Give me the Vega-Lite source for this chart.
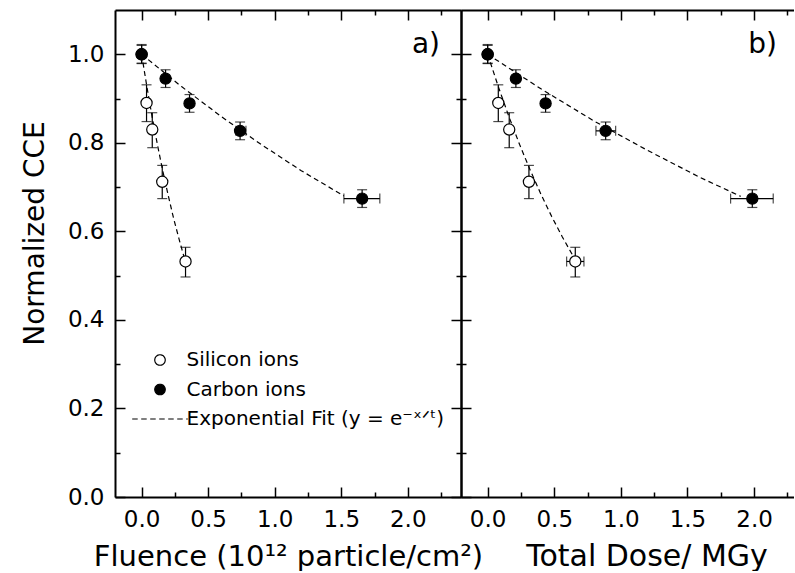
{
  "$schema": "https://vega.github.io/schema/vega-lite/v6.json",
  "usermeta": {"embedOptions": {"actions": false}},
  "background": "white",
  "padding": {"left": 21, "top": 9, "right": 0, "bottom": 0},
  "config": {
    "font": "DejaVu Sans",
    "view": {"stroke": null},
    "axis": {"domainColor": "black", "domainWidth": 2, "tickColor": "black", "tickWidth": 1.5, "labelColor": "black", "titleColor": "black", "labelFontSize": 23, "titleFontSize": 29, "titleFontWeight": "normal", "grid": false, "labelFlush": false, "labelOverlap": false},
    "title": {"font": "DejaVu Sans", "fontWeight": "normal", "color": "black"},
    "legend": {"padding": 0}
  },
  "datasets": {
    "flu": [
      {"ion": "Silicon ions", "x": 0, "y": 1.0, "ylo": 0.98, "yhi": 1.02},
      {"ion": "Silicon ions", "x": 0.037, "y": 0.89, "ylo": 0.848, "yhi": 0.931},
      {"ion": "Silicon ions", "x": 0.08, "y": 0.83, "ylo": 0.789, "yhi": 0.868},
      {"ion": "Silicon ions", "x": 0.155, "y": 0.712, "ylo": 0.674, "yhi": 0.749},
      {"ion": "Silicon ions", "x": 0.33, "y": 0.532, "ylo": 0.497, "yhi": 0.564},
      {"ion": "Carbon ions", "x": 0, "y": 1.0, "ylo": 0.979, "yhi": 1.022},
      {"ion": "Carbon ions", "x": 0.18, "y": 0.945, "ylo": 0.925, "yhi": 0.965},
      {"ion": "Carbon ions", "x": 0.36, "y": 0.889, "ylo": 0.869, "yhi": 0.909},
      {"ion": "Carbon ions", "x": 0.74, "y": 0.827, "ylo": 0.807, "yhi": 0.847, "xlo": 0.709, "xhi": 0.784},
      {"ion": "Carbon ions", "x": 1.657, "y": 0.674, "ylo": 0.654, "yhi": 0.694, "xlo": 1.52, "xhi": 1.79}
    ],
    "dose": [
      {"ion": "Silicon ions", "x": 0, "y": 1.0, "ylo": 0.98, "yhi": 1.02},
      {"ion": "Silicon ions", "x": 0.08, "y": 0.89, "ylo": 0.848, "yhi": 0.931},
      {"ion": "Silicon ions", "x": 0.162, "y": 0.83, "ylo": 0.789, "yhi": 0.868},
      {"ion": "Silicon ions", "x": 0.31, "y": 0.712, "ylo": 0.674, "yhi": 0.749},
      {"ion": "Silicon ions", "x": 0.658, "y": 0.532, "ylo": 0.497, "yhi": 0.564, "xlo": 0.593, "xhi": 0.723},
      {"ion": "Carbon ions", "x": 0, "y": 1.0, "ylo": 0.979, "yhi": 1.022},
      {"ion": "Carbon ions", "x": 0.212, "y": 0.945, "ylo": 0.925, "yhi": 0.965},
      {"ion": "Carbon ions", "x": 0.435, "y": 0.889, "ylo": 0.869, "yhi": 0.909},
      {"ion": "Carbon ions", "x": 0.886, "y": 0.827, "ylo": 0.807, "yhi": 0.847, "xlo": 0.813, "xhi": 0.961},
      {"ion": "Carbon ions", "x": 1.987, "y": 0.674, "ylo": 0.654, "yhi": 0.694, "xlo": 1.824, "xhi": 2.144}
    ],
    "fitflu": [
      {"grp": "Si", "x": 0, "y": 1.0}, {"grp": "Si", "x": 0.04, "y": 0.926}, {"grp": "Si", "x": 0.08, "y": 0.857},
      {"grp": "Si", "x": 0.12, "y": 0.794}, {"grp": "Si", "x": 0.16, "y": 0.735}, {"grp": "Si", "x": 0.2, "y": 0.681},
      {"grp": "Si", "x": 0.24, "y": 0.63}, {"grp": "Si", "x": 0.28, "y": 0.584}, {"grp": "Si", "x": 0.33, "y": 0.53},
      {"grp": "C", "x": 0, "y": 1.0}, {"grp": "C", "x": 0.3, "y": 0.927}, {"grp": "C", "x": 0.6, "y": 0.859},
      {"grp": "C", "x": 0.9, "y": 0.796}, {"grp": "C", "x": 1.2, "y": 0.737}, {"grp": "C", "x": 1.52, "y": 0.68}
    ],
    "fitdose": [
      {"grp": "Si", "x": 0, "y": 1.0}, {"grp": "Si", "x": 0.08, "y": 0.927}, {"grp": "Si", "x": 0.16, "y": 0.859},
      {"grp": "Si", "x": 0.24, "y": 0.796}, {"grp": "Si", "x": 0.32, "y": 0.738}, {"grp": "Si", "x": 0.4, "y": 0.684},
      {"grp": "Si", "x": 0.48, "y": 0.634}, {"grp": "Si", "x": 0.56, "y": 0.588}, {"grp": "Si", "x": 0.64, "y": 0.545},
      {"grp": "C", "x": 0, "y": 1.0}, {"grp": "C", "x": 0.4, "y": 0.922}, {"grp": "C", "x": 0.8, "y": 0.849},
      {"grp": "C", "x": 1.2, "y": 0.783}, {"grp": "C", "x": 1.6, "y": 0.721}, {"grp": "C", "x": 1.9, "y": 0.679}
    ]
  },
  "spacing": 0,
  "bounds": "flush",
  "resolve": {"scale": {"fill": "independent"}, "legend": {"fill": "independent"}},
  "hconcat": [
    {
      "width": 346,
      "height": 487,
      "title": {"text": "a)", "anchor": "end", "frame": "group", "orient": "top", "offset": -72, "dx": -21, "baseline": "alphabetic", "fontSize": 28},
      "resolve": {"axis": {"x": "independent", "y": "independent"}},
      "layer": [
        {
          "data": {"name": "flu"},
          "mark": {"type": "rule", "color": "black", "strokeWidth": 1.2},
          "encoding": {
            "x": {"field": "x", "type": "quantitative", "scale": {"domain": [-0.2, 2.4], "nice": false, "zero": false},
                  "axis": {"orient": "bottom", "values": [0, 0.5, 1, 1.5, 2], "format": ".1f", "tickSize": -10, "labelPadding": 21, "title": "Fluence (10¹² particle/cm²)", "titleY": 68, "titleBaseline": "alphabetic"}},
            "y": {"field": "ylo", "type": "quantitative", "scale": {"domain": [0, 1.1], "nice": false},
                  "axis": {"orient": "left", "values": [0, 0.2, 0.4, 0.6, 0.8, 1.0], "format": ".1f", "tickSize": -10, "labelPadding": 21, "title": "Normalized CCE", "titleFontSize": 28, "titleX": -72, "titleY": 223, "titleBaseline": "alphabetic"}},
            "y2": {"field": "yhi"}
          }
        },
        {
          "data": {"name": "flu"},
          "mark": {"type": "tick", "orient": "horizontal", "color": "black", "thickness": 1.2, "size": 10},
          "encoding": {
            "x": {"field": "x", "type": "quantitative", "scale": {"domain": [-0.2, 2.4], "nice": false, "zero": false},
                  "axis": {"orient": "top", "values": [0, 0.5, 1, 1.5, 2], "tickSize": -10, "labels": false, "title": null}},
            "y": {"field": "ylo", "type": "quantitative", "scale": {"domain": [0, 1.1], "nice": false},
                  "axis": {"orient": "right", "values": [0, 0.2, 0.4, 0.6, 0.8, 1.0], "tickSize": -10, "labels": false, "title": null}}
          }
        },
        {
          "data": {"name": "flu"},
          "mark": {"type": "tick", "orient": "horizontal", "color": "black", "thickness": 1.2, "size": 10},
          "encoding": {
            "x": {"field": "x", "type": "quantitative", "scale": {"domain": [-0.2, 2.4], "nice": false, "zero": false},
                  "axis": {"orient": "bottom", "values": [0.25, 0.75, 1.25, 1.75, 2.25], "tickSize": -5, "labels": false, "domain": false, "title": null}},
            "y": {"field": "yhi", "type": "quantitative", "scale": {"domain": [0, 1.1], "nice": false},
                  "axis": {"orient": "left", "values": [0.1, 0.3, 0.5, 0.7, 0.9], "tickSize": -5, "labels": false, "domain": false, "title": null}}
          }
        },
        {
          "data": {"name": "flu"},
          "transform": [{"filter": "isValid(datum.xlo)"}],
          "mark": {"type": "rule", "color": "black", "strokeWidth": 1.2},
          "encoding": {
            "x": {"field": "xlo", "type": "quantitative", "scale": {"domain": [-0.2, 2.4], "nice": false, "zero": false},
                  "axis": {"orient": "top", "values": [0.25, 0.75, 1.25, 1.75, 2.25], "tickSize": -5, "labels": false, "domain": false, "title": null}},
            "x2": {"field": "xhi"},
            "y": {"field": "y", "type": "quantitative", "scale": {"domain": [0, 1.1], "nice": false},
                  "axis": {"orient": "right", "values": [0.1, 0.3, 0.5, 0.7, 0.9], "tickSize": -5, "labels": false, "domain": false, "title": null}}
          }
        },
        {
          "data": {"name": "flu"},
          "transform": [{"filter": "isValid(datum.xlo)"}],
          "mark": {"type": "tick", "orient": "vertical", "color": "black", "thickness": 1.2, "size": 10},
          "encoding": {
            "x": {"field": "xlo", "type": "quantitative", "scale": {"domain": [-0.2, 2.4], "nice": false, "zero": false}, "axis": null},
            "y": {"field": "y", "type": "quantitative", "scale": {"domain": [0, 1.1], "nice": false}, "axis": null}
          }
        },
        {
          "data": {"name": "flu"},
          "transform": [{"filter": "isValid(datum.xhi)"}],
          "mark": {"type": "tick", "orient": "vertical", "color": "black", "thickness": 1.2, "size": 10},
          "encoding": {
            "x": {"field": "xhi", "type": "quantitative", "scale": {"domain": [-0.2, 2.4], "nice": false, "zero": false}, "axis": null},
            "y": {"field": "y", "type": "quantitative", "scale": {"domain": [0, 1.1], "nice": false}, "axis": null}
          }
        },
        {
          "data": {"name": "fitflu"},
          "mark": {"type": "line", "color": "black", "strokeWidth": 1.2, "strokeDash": [5, 3.5]},
          "encoding": {
            "x": {"field": "x", "type": "quantitative", "scale": {"domain": [-0.2, 2.4], "nice": false, "zero": false}, "axis": null},
            "y": {"field": "y", "type": "quantitative", "scale": {"domain": [0, 1.1], "nice": false}, "axis": null},
            "detail": {"field": "grp", "type": "nominal"}
          }
        },
        {
          "data": {"name": "flu"},
          "mark": {"type": "point", "filled": true, "shape": "circle", "size": 125, "stroke": "black", "strokeWidth": 1.2, "opacity": 1},
          "encoding": {
            "x": {"field": "x", "type": "quantitative", "scale": {"domain": [-0.2, 2.4], "nice": false, "zero": false}, "axis": null},
            "y": {"field": "y", "type": "quantitative", "scale": {"domain": [0, 1.1], "nice": false}, "axis": null},
            "fill": {
              "field": "ion", "type": "nominal",
              "scale": {"domain": ["Silicon ions", "Carbon ions", "Exponential Fit (y = e⁻ˣᐟᵗ)"], "range": ["white", "black", "transparent"]},
              "legend": {
                "orient": "none", "legendX": 35, "legendY": 340, "title": null,
                "labelFontSize": 20, "labelColor": "black", "labelLimit": 500, "labelOffset": 16.5,
                "symbolSize": 110, "symbolStrokeColor": "black", "symbolStrokeWidth": 1.2, "symbolOpacity": 1,
                "rowPadding": 9.5,
                "encode": {"symbols": {"update": {
                  "shape": {"signal": "indexof(datum.value, 'Exp') === 0 ? 'M-5.3,0H5.3' : 'circle'"},
                  "strokeDash": {"signal": "indexof(datum.value, 'Exp') === 0 ? [5.5, 3.5] : [1, 0]"}
                }}}
              }
            }
          }
        }
      ]
    },
    {
      "width": 333,
      "height": 487,
      "title": {"text": "b)", "anchor": "end", "frame": "group", "orient": "top", "offset": -72, "dx": -17, "baseline": "alphabetic", "fontSize": 28},
      "resolve": {"axis": {"x": "independent", "y": "independent"}},
      "layer": [
        {
          "data": {"name": "dose"},
          "mark": {"type": "rule", "color": "black", "strokeWidth": 1.2},
          "encoding": {
            "x": {"field": "x", "type": "quantitative", "scale": {"domain": [-0.2, 2.3], "nice": false, "zero": false},
                  "axis": {"orient": "bottom", "values": [0, 0.5, 1, 1.5, 2], "format": ".1f", "tickSize": -10, "labelPadding": 21, "title": "Total Dose/ MGy", "titleFontSize": 30, "titleX": 185.5, "titleY": 68, "titleBaseline": "alphabetic"}},
            "y": {"field": "ylo", "type": "quantitative", "scale": {"domain": [0, 1.1], "nice": false},
                  "axis": {"orient": "left", "values": [0, 0.2, 0.4, 0.6, 0.8, 1.0], "tickSize": -10, "labels": false, "title": null}},
            "y2": {"field": "yhi"}
          }
        },
        {
          "data": {"name": "dose"},
          "mark": {"type": "tick", "orient": "horizontal", "color": "black", "thickness": 1.2, "size": 10},
          "encoding": {
            "x": {"field": "x", "type": "quantitative", "scale": {"domain": [-0.2, 2.3], "nice": false, "zero": false},
                  "axis": {"orient": "top", "values": [0, 0.5, 1, 1.5, 2], "tickSize": -10, "labels": false, "title": null}},
            "y": {"field": "ylo", "type": "quantitative", "scale": {"domain": [0, 1.1], "nice": false}, "axis": null}
          }
        },
        {
          "data": {"name": "dose"},
          "mark": {"type": "tick", "orient": "horizontal", "color": "black", "thickness": 1.2, "size": 10},
          "encoding": {
            "x": {"field": "x", "type": "quantitative", "scale": {"domain": [-0.2, 2.3], "nice": false, "zero": false},
                  "axis": {"orient": "bottom", "values": [0.25, 0.75, 1.25, 1.75, 2.25], "tickSize": -5, "labels": false, "domain": false, "title": null}},
            "y": {"field": "yhi", "type": "quantitative", "scale": {"domain": [0, 1.1], "nice": false},
                  "axis": {"orient": "left", "values": [0.1, 0.3, 0.5, 0.7, 0.9], "tickSize": -5, "labels": false, "domain": false, "title": null}}
          }
        },
        {
          "data": {"name": "dose"},
          "transform": [{"filter": "isValid(datum.xlo)"}],
          "mark": {"type": "rule", "color": "black", "strokeWidth": 1.2},
          "encoding": {
            "x": {"field": "xlo", "type": "quantitative", "scale": {"domain": [-0.2, 2.3], "nice": false, "zero": false},
                  "axis": {"orient": "top", "values": [0.25, 0.75, 1.25, 1.75, 2.25], "tickSize": -5, "labels": false, "domain": false, "title": null}},
            "x2": {"field": "xhi"},
            "y": {"field": "y", "type": "quantitative", "scale": {"domain": [0, 1.1], "nice": false}, "axis": null}
          }
        },
        {
          "data": {"name": "dose"},
          "transform": [{"filter": "isValid(datum.xlo)"}],
          "mark": {"type": "tick", "orient": "vertical", "color": "black", "thickness": 1.2, "size": 10},
          "encoding": {
            "x": {"field": "xlo", "type": "quantitative", "scale": {"domain": [-0.2, 2.3], "nice": false, "zero": false}, "axis": null},
            "y": {"field": "y", "type": "quantitative", "scale": {"domain": [0, 1.1], "nice": false}, "axis": null}
          }
        },
        {
          "data": {"name": "dose"},
          "transform": [{"filter": "isValid(datum.xhi)"}],
          "mark": {"type": "tick", "orient": "vertical", "color": "black", "thickness": 1.2, "size": 10},
          "encoding": {
            "x": {"field": "xhi", "type": "quantitative", "scale": {"domain": [-0.2, 2.3], "nice": false, "zero": false}, "axis": null},
            "y": {"field": "y", "type": "quantitative", "scale": {"domain": [0, 1.1], "nice": false}, "axis": null}
          }
        },
        {
          "data": {"name": "fitdose"},
          "mark": {"type": "line", "color": "black", "strokeWidth": 1.2, "strokeDash": [5, 3.5]},
          "encoding": {
            "x": {"field": "x", "type": "quantitative", "scale": {"domain": [-0.2, 2.3], "nice": false, "zero": false}, "axis": null},
            "y": {"field": "y", "type": "quantitative", "scale": {"domain": [0, 1.1], "nice": false}, "axis": null},
            "detail": {"field": "grp", "type": "nominal"}
          }
        },
        {
          "data": {"name": "dose"},
          "mark": {"type": "point", "filled": true, "shape": "circle", "size": 125, "stroke": "black", "strokeWidth": 1.2, "opacity": 1},
          "encoding": {
            "x": {"field": "x", "type": "quantitative", "scale": {"domain": [-0.2, 2.3], "nice": false, "zero": false}, "axis": null},
            "y": {"field": "y", "type": "quantitative", "scale": {"domain": [0, 1.1], "nice": false}, "axis": null},
            "fill": {
              "field": "ion", "type": "nominal",
              "scale": {"domain": ["Silicon ions", "Carbon ions", "Exponential Fit (y = e⁻ˣᐟᵗ)"], "range": ["white", "black", "transparent"]},
              "legend": null
            }
          }
        }
      ]
    }
  ]
}
